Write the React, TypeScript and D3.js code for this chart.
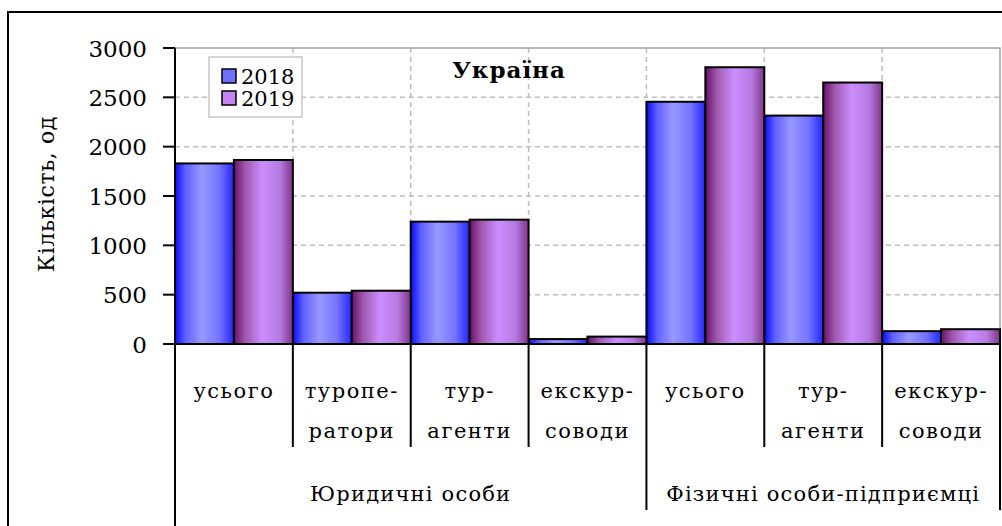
// @ts-nocheck
import * as d3 from "d3";
import { useRef, useEffect } from "react";

const categories = [
  ["усього"],
  ["туропе-", "ратори"],
  ["тур-", "агенти"],
  ["екскур-", "соводи"],
  ["усього"],
  ["тур-", "агенти"],
  ["екскур-", "соводи"],
];
const groups = ["Юридичні особи", "Фізичні особи-підприємці"];
const groupSizes = [4, 3];
const seriesNames = ["2018", "2019"];
const values2018 = [1830, 520, 1240, 50, 2455, 2315, 130];
const values2019 = [1865, 540, 1260, 75, 2805, 2650, 150];
const yTicks = [0, 500, 1000, 1500, 2000, 2500, 3000];
const title = "Україна";
const yLabel = "Кількість, од";

export default function App() {
  const ref = useRef();

  useEffect(() => {
    const svg = d3.select(ref.current);
    svg.selectAll("*").remove();

    const left = 175, right = 1000, top = 48, bottom = 344;
    const serif = "'DejaVu Serif', serif";

    const x0 = d3.scaleBand().domain(d3.range(categories.length)).range([left, right]).padding(0);
    const x1 = d3.scaleBand().domain(seriesNames).range([0, x0.bandwidth()]).padding(0);
    const y = d3.scaleLinear().domain([0, 3000]).range([bottom, top]);

    const defs = svg.append("defs");
    const grads = [
      { id: "g2018", stops: [["0%", "#0a0aff"], ["18%", "#6060ff"], ["45%", "#9898ff"], ["75%", "#7474ff"], ["100%", "#2424ff"]] },
      { id: "g2019", stops: [["0%", "#6a106a"], ["20%", "#a05aae"], ["48%", "#cc8eff"], ["78%", "#b57ae0"], ["100%", "#803488"]] },
    ];
    grads.forEach((g) => {
      const lg = defs.append("linearGradient").attr("id", g.id).attr("x1", "0").attr("x2", "1").attr("y1", "0").attr("y2", "0");
      g.stops.forEach(([o, c]) => lg.append("stop").attr("offset", o).attr("stop-color", c));
    });

    // outer frame
    svg.append("rect").attr("x", 8).attr("y", 12).attr("width", 1010).attr("height", 540)
      .attr("fill", "white").attr("stroke", "#000").attr("stroke-width", 2);

    // grid
    svg.append("g").selectAll("line").data(yTicks.filter((t) => t > 0 && t < 3000)).join("line")
      .attr("x1", left).attr("x2", right).attr("y1", (d) => y(d)).attr("y2", (d) => y(d))
      .attr("stroke", "#bdbdbd").attr("stroke-width", 1.5).attr("stroke-dasharray", "5,4");
    svg.append("g").selectAll("line").data(d3.range(1, categories.length)).join("line")
      .attr("x1", (d) => x0(d)).attr("x2", (d) => x0(d)).attr("y1", top).attr("y2", bottom)
      .attr("stroke", "#bdbdbd").attr("stroke-width", 1.5).attr("stroke-dasharray", "5,4");

    // plot border top/right
    svg.append("path").attr("d", `M${left},${top}H${right}V${bottom}`)
      .attr("fill", "none").attr("stroke", "#a0a0a0").attr("stroke-width", 1.5);

    // bars
    const series = [values2018, values2019];
    const bars = svg.append("g");
    series.forEach((vals, si) => {
      bars.selectAll(null).data(vals).join("rect")
        .attr("x", (d, i) => x0(i) + x1(seriesNames[si]))
        .attr("y", (d) => y(d))
        .attr("width", x1.bandwidth())
        .attr("height", (d) => bottom - y(d))
        .attr("fill", `url(#g${seriesNames[si]})`)
        .attr("stroke", "#000").attr("stroke-width", 2);
    });

    // y axis
    svg.append("line").attr("x1", left).attr("x2", left).attr("y1", top).attr("y2", 526)
      .attr("stroke", "#000").attr("stroke-width", 2);
    svg.append("line").attr("x1", 163).attr("x2", right).attr("y1", bottom).attr("y2", bottom)
      .attr("stroke", "#000").attr("stroke-width", 2);
    const yt = svg.append("g").selectAll("g").data(yTicks).join("g");
    yt.append("line").attr("x1", 163).attr("x2", left).attr("y1", (d) => y(d)).attr("y2", (d) => y(d))
      .attr("stroke", "#000").attr("stroke-width", 2);
    yt.append("text").attr("x", 147).attr("y", (d) => y(d) + 8.5).attr("text-anchor", "end")
      .attr("font-family", serif).attr("font-size", 23).attr("fill", "#000").text((d) => d);

    svg.append("text").attr("transform", "translate(54,194) rotate(-90)").attr("text-anchor", "middle")
      .attr("font-family", serif).attr("font-size", 22).attr("letter-spacing", 0.6).text(yLabel);

    // category dividers and labels
    let idx = 0;
    const groupBounds = [];
    groupSizes.forEach((n) => { groupBounds.push(idx); idx += n; });
    groupBounds.push(categories.length);
    const inner = d3.range(0, categories.length + 1).filter((d) => !groupBounds.includes(d));
    svg.append("g").selectAll("line").data(inner).join("line")
      .attr("x1", (d) => x0(d)).attr("x2", (d) => x0(d)).attr("y1", bottom).attr("y2", 447)
      .attr("stroke", "#000").attr("stroke-width", 2);
    svg.append("g").selectAll("line").data(groupBounds).join("line")
      .attr("x1", (d) => (d === categories.length ? right : x0(d)))
      .attr("x2", (d) => (d === categories.length ? right : x0(d)))
      .attr("y1", bottom).attr("y2", (d) => (d === 0 ? 526 : 510))
      .attr("stroke", "#000").attr("stroke-width", 2);

    const cl = svg.append("g").selectAll("text").data(categories).join("text")
      .attr("text-anchor", "middle").attr("font-family", serif).attr("font-size", 21).attr("letter-spacing", 1.5);
    cl.selectAll("tspan").data((d, i) => d.map((t) => ({ t, i }))).join("tspan")
      .attr("x", (d) => x0(d.i) + x0.bandwidth() / 2)
      .attr("y", (d, j) => 398 + j * 40)
      .text((d) => d.t);

    svg.append("g").selectAll("text").data(groups).join("text")
      .attr("x", (d, gi) => ((gi === 0 ? x0(groupBounds[0]) : x0(groupBounds[1])) + (gi === 0 ? x0(groupBounds[1]) : right)) / 2)
      .attr("y", 501).attr("text-anchor", "middle").attr("font-family", serif).attr("font-size", 21)
      .attr("letter-spacing", 1.2).text((d) => d);

    // title
    svg.append("text").attr("x", 509).attr("y", 78).attr("text-anchor", "middle")
      .attr("font-family", serif).attr("font-weight", "bold").attr("font-size", 23).attr("letter-spacing", 1)
      .text(title);

    // legend
    const lg = svg.append("g");
    lg.append("rect").attr("x", 209).attr("y", 57).attr("width", 93).attr("height", 60)
      .attr("fill", "white").attr("stroke", "#c8c8c8").attr("stroke-width", 1.5);
    const legendFill = ["#7070ff", "#c585f0"];
    seriesNames.forEach((s, i) => {
      lg.append("rect").attr("x", 222).attr("y", 69 + i * 22).attr("width", 14).attr("height", 14)
        .attr("fill", legendFill[i]).attr("stroke", "#000").attr("stroke-width", 1.5);
      lg.append("text").attr("x", 241).attr("y", 84 + i * 22).attr("font-family", serif).attr("font-size", 21)
        .text(s);
    });
  }, []);

  return (
    <svg
      ref={ref}
      width={1002}
      height={526}
      style={{ position: "absolute", left: 0, top: 0, background: "white" }}
    ></svg>
  );
}
